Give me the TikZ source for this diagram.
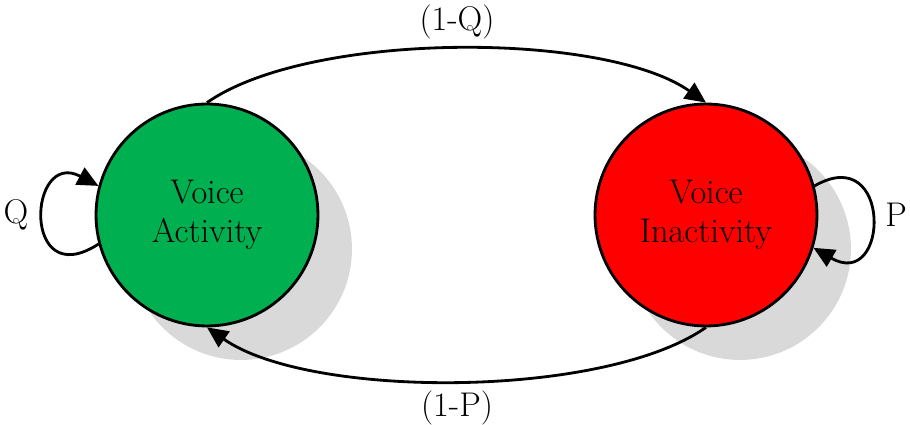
\documentclass[tikz,border=0pt]{standalone}
\usepackage{tikz}
\usetikzlibrary{arrows.meta,shadows}
\definecolor{voicegreen}{RGB}{0,176,80}
\tikzstyle{state} = [
  draw,
  circle,
  line width=1.6pt,
  minimum size=4.44cm,
  align=center,
  font=\fontsize{19.5}{22}\selectfont,
  general shadow={
    fill=gray!30,
    shadow xshift=0.68cm,
    shadow yshift=-0.68cm,
  },
]
\tikzstyle{prob} = [
  font=\fontsize{19.5}{22}\selectfont,
]
\tikzstyle{trans} = [
  ->,
  line width=1.6pt,
]

\begin{document}
\begin{tikzpicture}[
    x=0.02cm,
    y=0.02cm,
    >={Triangle[length=0.42cm,width=0.38cm]},
  ]
  \useasboundingbox (0,0) rectangle (910,425);
  \node[
    state,
    fill=voicegreen,
  ](active) at (207,210){Voice\\Activity};
  \node[
    state,
    fill=red,
  ](inactive) at (706,210){Voice\\Inactivity};
  % transitions between the two states
  \draw[trans] (active.north)
    .. controls +(35:125) and +(145:125) .. (inactive.north);
  \draw[trans] (inactive.south)
    .. controls +(-145:125) and +(-35:125) .. (active.south);
  % staying in the same state
  \draw[trans] (active.195)
    .. controls +(213:92) and +(152:80) .. (active.165);
  \draw[trans] (inactive.15)
    .. controls +(30:90) and +(-30:88) .. (inactive.-17);
  \node[prob](toinactive) at (457,403){(1-Q)};
  \node[prob](toactive) at (457,17){(1-P)};
  \node[prob](stayactive) at (16,210){Q};
  \node[prob](stayinactive) at (896,210){P};
\end{tikzpicture}
\end{document}
